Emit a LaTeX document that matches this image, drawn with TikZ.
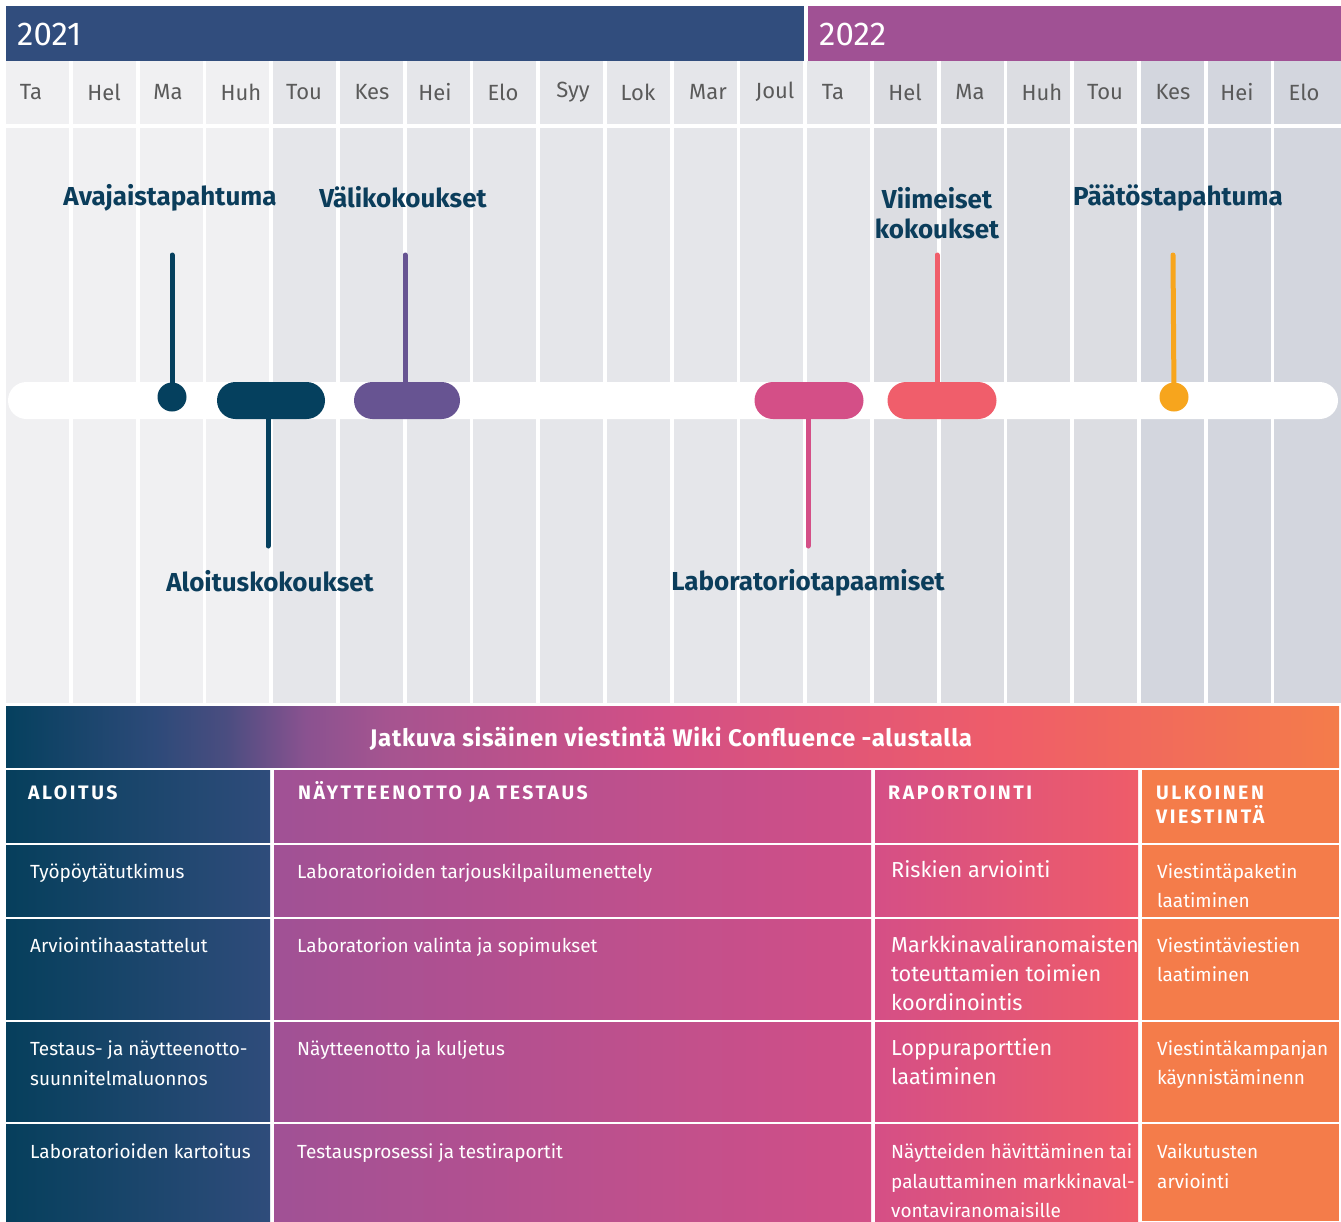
\documentclass[tikz,border=0pt]{standalone}
\usepackage{fontspec}
\setmainfont{Fira Sans}
\newfontfamily\hdfont[LetterSpace=13]{Fira Sans}
\newfontfamily\bandfont[LetterSpace=3]{Fira Sans}
\definecolor{hdnavy}{HTML}{314D7D}
\definecolor{hdpurple}{HTML}{A05194}
\definecolor{colA}{HTML}{F0F0F2}
\definecolor{colB}{HTML}{E5E6EA}
\definecolor{colC}{HTML}{DCDDE2}
\definecolor{colD}{HTML}{D3D6DE}
\definecolor{evteal}{HTML}{05405E}
\definecolor{evpurple}{HTML}{675492}
\definecolor{evpink}{HTML}{D44F87}
\definecolor{evcoral}{HTML}{F05E6B}
\definecolor{evorange}{HTML}{F7A51D}
\definecolor{labtext}{HTML}{0B3D5B}
\definecolor{monthtext}{HTML}{5A5A5A}
\definecolor{gA}{HTML}{05405E}
\definecolor{gB}{HTML}{2D4A79}
\definecolor{gC}{HTML}{4A4D80}
\definecolor{gD}{HTML}{8A5290}
\definecolor{gE}{HTML}{A55490}
\definecolor{gF}{HTML}{D24F86}
\definecolor{gG}{HTML}{EF5D69}
\definecolor{gH}{HTML}{F47C4A}
\definecolor{tAl}{HTML}{063F5C}
\definecolor{tAr}{HTML}{2F4C7B}
\definecolor{tBl}{HTML}{A05195}
\definecolor{tBr}{HTML}{D24F87}
\definecolor{tCl}{HTML}{D54F86}
\definecolor{tCr}{HTML}{EF5C69}
\definecolor{tD}{HTML}{F47C4A}
\pgfdeclarehorizontalshading{bandshade}{100bp}{color(0bp)=(gA); color(25bp)=(gA); color(30.6bp)=(gB); color(33.25bp)=(gC); color(36.25bp)=(gD); color(39.25bp)=(gE); color(49.4bp)=(gF); color(62.5bp)=(gG); color(75bp)=(gH); color(100bp)=(gH)}
\tikzset{
  monthlbl/.style={text=monthtext, font=\fontsize{22}{27}\selectfont, inner sep=0},
  yearlbl/.style={text=white, font=\fontsize{33}{38}\selectfont, anchor=mid west, inner sep=0},
  evlbl/.style={text=labtext, font=\bfseries\fontsize{26}{30}\selectfont, align=center, inner sep=0},
  stem/.style={line width=5pt, line cap=round},
  evdot/.style={circle, minimum size=29pt, inner sep=0},
  pill/.style={rectangle, rounded corners=18.5pt, minimum height=37pt, inner sep=0},
  thead/.style={text=white, font=\hdfont\bfseries\fontsize{19.5}{24}\selectfont, anchor=mid west, inner sep=0},
  tcell/.style={text=white, font=\fontsize{19}{22}\selectfont, anchor=mid west, inner sep=0},
  tbig/.style={text=white, font=\fontsize{21.7}{25}\selectfont, anchor=mid west, inner sep=0},
}
\begin{document}
\begin{tikzpicture}[x=1pt,y=-1pt]
\useasboundingbox (0,0) rectangle (1341,1221);
\fill[white] (0,0) rectangle (1341,1221);
% year bars
\fill[hdnavy] (6,6) rectangle (804,61);
\fill[hdpurple] (808,6) rectangle (1341,61);
\node[yearlbl] (y1) at (17,43) {2021};
\node[yearlbl] (y2) at (819,43) {2022};
% month columns
\foreach \m/\c/\cx [count=\i from 0] in {Ta/colA/31,Hel/colA/104,Ma/colA/168,Huh/colA/241,Tou/colB/304,Kes/colB/372,Hei/colB/435,Elo/colB/503,Syy/colB/573,Lok/colB/638,Mar/colB/708,Joul/colB/775,Ta/colB/833,Hel/colC/905,Ma/colC/970,Huh/colC/1042,Tou/colC/1105,Kes/colD/1173,Hei/colD/1237,Elo/colD/1304}{
  \pgfmathsetmacro{\xa}{6+66.75*\i}
  \pgfmathsetmacro{\xb}{\i==19 ? 1341 : \xa+63}
  \fill[\c] (\xa,61) rectangle (\xb,124);
  \fill[\c] (\xa,128) rectangle (\xb,703);
  \node[monthlbl] (m\i) at (\cx,92) {\m};
}
% timeline bar
\fill[white, rounded corners=18.5pt] (8,382) rectangle (1338,419);
% event labels
\node[evlbl] (l1) at (170,198) {Avajaistapahtuma};
\node[evlbl] (l3) at (403,197) {Välikokoukset};
\node[evlbl] (l5) at (937,213) {Viimeiset\\kokoukset};
\node[evlbl] (l6) at (1178,198) {Päätöstapahtuma};
\node[evlbl] (l2) at (270,581) {Aloituskokoukset};
\node[evlbl] (l4) at (808,583) {Laboratoriotapaamiset};
% stem ends
\coordinate (s1) at (172,255);
\coordinate (s2) at (268,546);
\coordinate (s3) at (405,255);
\coordinate (s4) at (808,546);
\coordinate (s5) at (937,255);
\coordinate (s6) at (1173,255);
% shapes (positions)
\coordinate (c1) at (172,397);
\coordinate (c6) at (1174,397);
\draw[stem, evteal] (s1) -- (c1);
\draw[stem, evteal] (s2) -- (268,405);
\draw[stem, evpurple] (s3) -- (405,400);
\draw[stem, evpink] (s4) -- (808,400);
\draw[stem, evcoral] (s5) -- (937,400);
\draw[stem, evorange] (s6) -- (c6);
\node[evdot, fill=evteal] (d1) at (c1) {};
\node[pill, fill=evteal, minimum width=108pt] (p2) at (271,400.5) {};
\node[pill, fill=evpurple, minimum width=106pt] (p3) at (407,400.5) {};
\node[pill, fill=evpink, minimum width=109pt] (p4) at (809,400.5) {};
\node[pill, fill=evcoral, minimum width=109pt] (p5) at (942,400.5) {};
\node[evdot, fill=evorange] (d6) at (c6) {};
% table band
\shade[shading=bandshade] (6,706) rectangle (1339,767);
\node[text=white, font=\bandfont\bfseries\fontsize{24}{28}\selectfont, inner sep=0] (band) at (671,739) {Jatkuva sisäinen viestintä Wiki Confluence -alustalla};
% table columns
\shade[left color=tAl, right color=tAr] (6,770) rectangle (270,1221);
\shade[left color=tBl, right color=tBr] (274,770) rectangle (871,1221);
\shade[left color=tCl, right color=tCr] (875,770) rectangle (1138,1221);
\fill[tD] (1142,770) rectangle (1339,1221);
\foreach \yy in {844,918,1021,1123}{
  \draw[white, line width=2pt] (6,\yy) -- (1339,\yy);
}
% headers
\node[thead] (h1) at (28,797) {ALOITUS};
\node[thead] (h2) at (298,797) {NÄYTTEENOTTO JA TESTAUS};
\node[thead] (h3) at (888,797) {RAPORTOINTI};
\node[thead] (h4a) at (1156,797) {ULKOINEN};
\node[thead] (h4b) at (1156,821) {VIESTINTÄ};
% column 1
\node[tcell] (a1) at (30,876) {Työpöytätutkimus};
\node[tcell] (a2) at (30,950) {Arviointihaastattelut};
\node[tcell] (a3a) at (30,1053) {Testaus- ja näytteenotto-};
\node[tcell] (a3b) at (30,1083) {suunnitelmaluonnos};
\node[tcell] (a4) at (30,1156) {Laboratorioiden kartoitus};
% column 2
\node[tcell] (b1) at (297,876) {Laboratorioiden tarjouskilpailumenettely};
\node[tcell] (b2) at (297,950) {Laboratorion valinta ja sopimukset};
\node[tcell] (b3) at (297,1053) {Näytteenotto ja kuljetus};
\node[tcell] (b4) at (297,1156) {Testausprosessi ja testiraportit};
% column 3
\node[tbig] (r1) at (891,875) {Riskien arviointi};
\node[tbig] (r2a) at (891,950) {Markkinavaliranomaisten};
\node[tbig] (r2b) at (891,979) {toteuttamien toimien};
\node[tbig] (r2c) at (891,1008) {koordinointis};
\node[tbig] (r3a) at (891,1053) {Loppuraporttien};
\node[tbig] (r3b) at (891,1082) {laatiminen};
\node[tcell] (r4a) at (891,1156) {Näytteiden hävittäminen tai};
\node[tcell] (r4b) at (891,1186) {palauttaminen markkinaval-};
\node[tcell] (r4c) at (891,1215) {vontaviranomaisille};
% column 4
\node[tcell] (u1a) at (1157,876) {Viestintäpaketin};
\node[tcell] (u1b) at (1157,905) {laatiminen};
\node[tcell] (u2a) at (1157,950) {Viestintäviestien};
\node[tcell] (u2b) at (1157,979) {laatiminen};
\node[tcell] (u3a) at (1157,1053) {Viestintäkampanjan};
\node[tcell] (u3b) at (1157,1082) {käynnistäminenn};
\node[tcell] (u4a) at (1157,1156) {Vaikutusten};
\node[tcell] (u4b) at (1157,1186) {arviointi};
\end{tikzpicture}
\end{document}
